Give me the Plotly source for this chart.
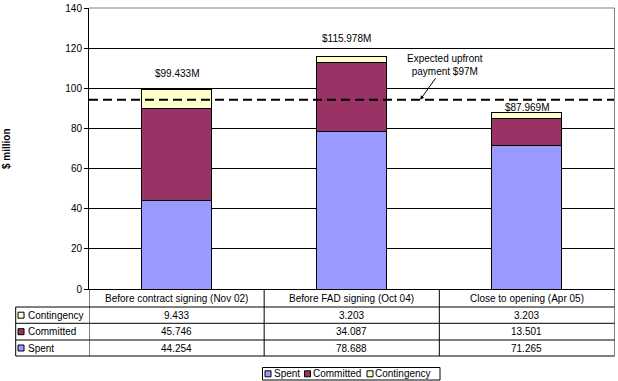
import plotly.graph_objects as go

# ---------------- data ----------------
categories = ["Before contract signing (Nov 02)", "Before FAD signing (Oct 04)", "Close to opening (Apr 05)"]
spent = [44.254, 78.688, 71.265]
committed = [45.746, 34.087, 13.501]
contingency = [9.433, 3.203, 3.203]
series_names = ["Spent", "Committed", "Contingency"]
series_colors = ["#9999FF", "#993366", "#FFFFCC"]
upfront_level = 94.3            # level where the dashed line is drawn
upfront_text = "Expected upfront<br>payment $97M"
y_ticks = [0, 20, 40, 60, 80, 100, 120, 140]

totals = [round(a + b + c, 3) for a, b, c in zip(spent, committed, contingency)]
xs = list(range(len(categories)))

W, H = 618, 381
FONT = "Liberation Sans, Arial, sans-serif"
def px(x):
    return x / W
def py(y):
    return 1 - y / H

fig = go.Figure()
for name, vals, col in zip(series_names, [spent, committed, contingency], series_colors):
    fig.add_trace(go.Bar(x=xs, y=vals, name=name, width=0.4,
                         marker=dict(color=col, line=dict(color="black", width=1)),
                         showlegend=False))

fig.add_trace(go.Scatter(x=[-0.5, len(categories) - 0.5], y=[upfront_level, upfront_level],
                         mode="lines", line=dict(color="black", width=2, dash="9px,5px"),
                         showlegend=False, hoverinfo="skip"))

L, R, T, B = 89, 614.5, 8, 289
fig.update_layout(
    width=W, height=H, margin=dict(l=0, r=0, t=0, b=0, autoexpand=False),
    paper_bgcolor="white", plot_bgcolor="white",
    barmode="stack", showlegend=False,
    font=dict(family=FONT, size=10, color="black"),
    xaxis=dict(domain=[px(L), px(R)], range=[-0.5, len(categories) - 0.5], automargin=False,
               showticklabels=False, ticks="", showgrid=False, zeroline=False,
               showline=True, linecolor="black", linewidth=1, fixedrange=True),
    yaxis=dict(domain=[py(B), py(T)], range=[0, 140], tickvals=y_ticks, automargin=False,
               ticks="outside", ticklen=4, tickcolor="black", tickwidth=1,
               showgrid=True, gridcolor="black", gridwidth=1, zeroline=False,
               showline=True, linecolor="black", linewidth=1,
               tickfont=dict(size=10, family=FONT)),
)

shapes = []
# grey plot border (top and right)
shapes.append(dict(type="line", xref="paper", yref="paper", x0=px(L), x1=px(R), y0=py(T), y1=py(T),
                   line=dict(color="#808080", width=1)))
shapes.append(dict(type="line", xref="paper", yref="paper", x0=px(R), x1=px(R), y0=py(T), y1=py(B),
                   line=dict(color="#808080", width=1)))

# data table
tab_left = 15.7
row_lines = [307, 323.3, 340, 356]
for yy in row_lines:
    shapes.append(dict(type="line", xref="paper", yref="paper", x0=px(tab_left), x1=px(R),
                       y0=py(yy), y1=py(yy), line=dict(color="black", width=1)))
shapes.append(dict(type="line", xref="paper", yref="paper", x0=px(tab_left), x1=px(tab_left),
                   y0=py(307), y1=py(356), line=dict(color="black", width=1)))
for xb in [x - 0.5 for x in xs] + [len(categories) - 0.5]:
    shapes.append(dict(type="line", xref="x", yref="paper", x0=xb, x1=xb,
                       y0=py(B), y1=py(356), line=dict(color="black", width=1)))

annotations = []
# header row
for x, c in zip(xs, categories):
    annotations.append(dict(x=x, y=py(298.5), xref="x", yref="paper", text=c, showarrow=False,
                            font=dict(size=10), xanchor="center", yanchor="middle"))
# value rows: Contingency, Committed, Spent
row_centers = [315.2, 331.7, 348]
row_series = [("Contingency", contingency, series_colors[2]),
              ("Committed", committed, series_colors[1]),
              ("Spent", spent, series_colors[0])]
for yc, (name, vals, col) in zip(row_centers, row_series):
    shapes.append(dict(type="rect", xref="paper", yref="paper",
                       x0=px(18), x1=px(24), y0=py(yc + 3), y1=py(yc - 3),
                       fillcolor=col, line=dict(color="black", width=1)))
    annotations.append(dict(x=px(26), y=py(yc), xref="paper", yref="paper", text=name,
                            showarrow=False, xanchor="left", yanchor="middle", font=dict(size=10)))
    for x, v in zip(xs, vals):
        annotations.append(dict(x=x, y=py(yc), xref="x", yref="paper", text=f"{v:.3f}",
                                showarrow=False, xanchor="center", yanchor="middle", font=dict(size=10)))

# totals above bars
label_shift_y = [16, 18, 5]
label_shift_x = [0, -5, 0]
for x, t, dy, dx in zip(xs, totals, label_shift_y, label_shift_x):
    annotations.append(dict(x=x, y=t, xref="x", yref="y", text=f"${t:.3f}M", showarrow=False,
                            yshift=dy, xshift=dx, xanchor="center", yanchor="middle",
                            font=dict(size=10)))

# upfront payment annotation with arrow
annotations.append(dict(x=1.391, y=upfront_level, xref="x", yref="y", text=upfront_text,
                        showarrow=True, arrowhead=2, arrowsize=0.8, arrowwidth=1, arrowcolor="black",
                        ax=25, ay=-35, font=dict(size=10), align="center"))

# y axis title
annotations.append(dict(x=px(6.5), y=py(148.5), xref="paper", yref="paper", text="<b>$ million</b>",
                        textangle=-90, showarrow=False, xanchor="center", yanchor="middle",
                        font=dict(size=10)))

# legend box
shapes.append(dict(type="rect", xref="paper", yref="paper", x0=px(262.5), x1=px(440), y0=py(380),
                   y1=py(367.5), line=dict(color="black", width=1), fillcolor="rgba(0,0,0,0)"))
leg_sq_x = [265, 304.5, 367]
leg_cy = 373.8
for sx, name, col in zip(leg_sq_x, series_names, series_colors):
    shapes.append(dict(type="rect", xref="paper", yref="paper", x0=px(sx), x1=px(sx + 6),
                       y0=py(leg_cy + 3), y1=py(leg_cy - 3), fillcolor=col,
                       line=dict(color="black", width=1)))
    annotations.append(dict(x=px(sx + 6.5), y=py(leg_cy), xref="paper", yref="paper", text=name,
                            showarrow=False, xanchor="left", yanchor="middle", font=dict(size=10)))

fig.update_layout(shapes=shapes, annotations=annotations)
fig.write_html("out.html", config={"displayModeBar": False},
               post_script="document.body.style.margin='0';document.body.style.overflow='hidden';")
